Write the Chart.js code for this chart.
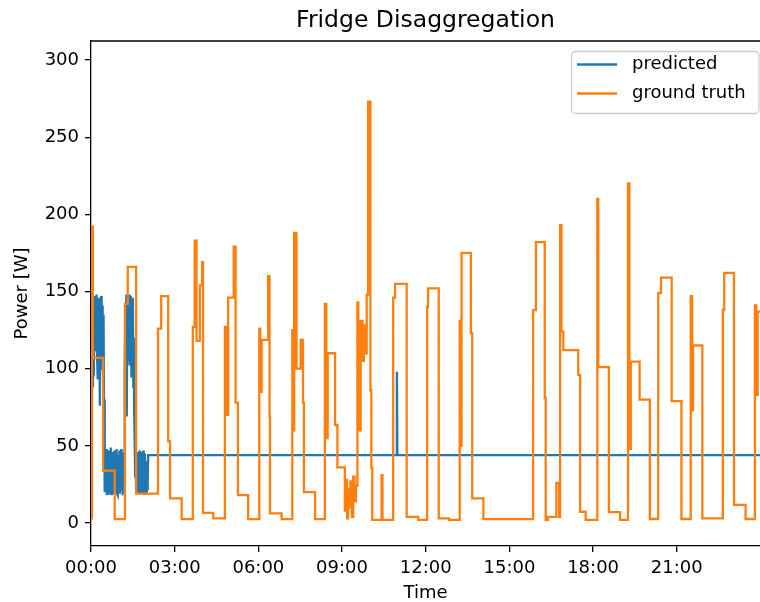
<!DOCTYPE html>
<html>
<head>
<meta charset="utf-8">
<title>Fridge Disaggregation</title>
<script src="https://cdn.jsdelivr.net/npm/chart.js@4.4.1/dist/chart.umd.min.js"></script>
<style>
  html, body { margin: 0; padding: 0; background: #fff; }
  canvas { display: block; }
</style>
</head>
<body>
<canvas id="fridgeChart" width="760" height="602"></canvas>
<script>
// time in minutes after midnight, power in W
const gtMinutes = [
  0, 2, 4, 26, 51, 73, 79, 97, 144, 151, 166, 170, 195,
  219, 223, 227, 234, 239, 241, 263,
  288, 291, 295, 307, 311, 316, 338,
  362, 364, 367, 381, 384, 385, 410,
  433, 435, 437, 442, 451, 456, 458, 482,
  503, 506, 509, 525, 530,
  546, 549, 551, 553, 555, 558, 561, 564, 567, 570,
  573, 575, 580, 584, 587, 590, 593, 596, 601, 603, 605, 625, 627,
  650, 654, 679, 704, 723, 725, 748, 770,
  793, 795, 797, 817, 820, 844,
  951, 957, 976, 978, 983, 1001, 1007,
  1009, 1012, 1016, 1048, 1052, 1064,
  1089, 1091, 1114, 1138,
  1155, 1158, 1161, 1180, 1202,
  1220, 1226, 1249, 1270,
  1290, 1293, 1295, 1315,
  1359, 1362, 1383, 1408,
  1428, 1431, 1434, 1439
];
const gtWatts = [
  3, 192, 107, 34, 2.5, 142, 166, 19, 126, 147, 53, 16, 2.5,
  127, 183, 118, 154, 169, 6.5, 3,
  127, 70, 146, 179, 78, 18, 2.5,
  126, 85, 118.6, 160, 69, 6.3, 2.5,
  125, 60, 188, 100, 118.6, 78, 20, 2.5,
  142, 55, 110, 63.5, 36,
  8, 28, 3, 22, 10, 27, 4, 30, 14, 24,
  143, 60, 131, 105, 128, 110, 148, 273, 86, 35.6, 2, 31, 2,
  146, 155, 4, 2, 140, 152, 3, 2,
  131, 50, 175, 123, 16, 2.5,
  138, 182, 81, 2, 4, 26, 4,
  193, 124, 112, 96, 7.3, 2,
  210, 101, 7, 2,
  220, 48, 104.5, 80, 2.6,
  149, 159, 79, 2.6,
  147, 73, 115, 3,
  138, 162, 11.7, 2.6,
  141, 83, 137, 137
];

const predMinutes = [
  0, 1, 2, 3, 4, 5, 6, 7, 8, 9,
  10, 11, 12, 13, 14, 15, 16, 17, 18, 19,
  20, 21, 22, 23, 24, 25, 26, 27, 28, 29,
  30, 31, 32, 33, 34, 35, 36, 37, 38, 39,
  40, 41, 42, 43, 44, 45, 46, 47, 48, 49,
  50, 51, 52, 53, 54, 55, 56, 57, 58, 59,
  60, 61, 62, 63, 64, 65, 66, 67, 68, 69,
  70, 71, 72, 73, 74, 75, 76, 77, 78, 79,
  80, 81, 82, 83, 84, 85, 86, 87, 88, 89,
  90, 91, 92, 93, 94, 95, 96, 97, 98, 99,
  100, 101, 102, 103, 104, 105, 106, 107, 108, 109,
  110, 111, 112, 113, 114, 115, 116, 117, 118, 119,
  120, 121, 122, 123,
  657, 658, 659, 1439
];
const predWatts = [
  58, 92, 70, 105, 88, 130, 95, 140, 147, 112,
  145, 120, 148, 108, 140, 93, 146, 118, 130, 76,
  144, 110, 147, 125, 100, 141, 92, 135, 80, 62,
  20, 45, 25, 48, 18, 40, 22, 47, 30, 19,
  44, 26, 49, 20, 38, 18, 46, 24, 42, 19,
  47, 28, 20, 45, 22, 48, 19, 36, 18, 44,
  25, 47, 19, 40, 21, 48, 23, 43, 18, 38,
  20, 45, 60, 100, 140, 115, 148, 69, 147, 105,
  145, 120, 148, 102, 140, 112, 147, 95, 138, 108,
  146, 88, 120, 70, 52, 30, 45, 22, 42, 30,
  46, 20, 44, 19, 47, 23, 40, 19, 46, 25,
  43, 19, 47, 22, 38, 19, 45, 24, 40, 20,
  35, 22, 28, 44,
  44, 98, 44, 44
];

const xTickMinutes = [0, 180, 360, 540, 720, 900, 1080, 1260];
const xTickLabels = ["00:00", "03:00", "06:00", "09:00", "12:00", "15:00", "18:00", "21:00"];
const yTicks = [0, 50, 100, 150, 200, 250, 300];

const FONT = "'DejaVu Sans', sans-serif";

// matplotlib-like top spine
const topSpine = {
  id: "topSpine",
  afterDatasetsDraw(chart) {
    const { ctx, chartArea } = chart;
    ctx.save();
    ctx.strokeStyle = "#000";
    ctx.lineWidth = 1.3;
    ctx.beginPath();
    ctx.moveTo(chartArea.left, chartArea.top);
    ctx.lineTo(chartArea.right, chartArea.top);
    ctx.stroke();
    ctx.restore();
  }
};

// framed legend in the upper right corner of the plot
const boxLegend = {
  id: "boxLegend",
  afterDatasetsDraw(chart) {
    const { ctx, chartArea } = chart;
    const x = chartArea.right - 188.5;
    const y = chartArea.top + 10.5;
    ctx.save();
    ctx.fillStyle = "rgba(255,255,255,0.8)";
    ctx.strokeStyle = "#cccccc";
    ctx.lineWidth = 1.3;
    ctx.beginPath();
    if (ctx.roundRect) ctx.roundRect(x, y, 187.5, 62, 4);
    else ctx.rect(x, y, 187.5, 62);
    ctx.fill();
    ctx.stroke();
    ctx.font = "18px " + FONT;
    ctx.textBaseline = "middle";
    chart.data.datasets.forEach((ds, i) => {
      const ly = y + 13 + i * 29;
      ctx.strokeStyle = ds.borderColor;
      ctx.lineWidth = ds.borderWidth;
      ctx.beginPath();
      ctx.moveTo(x + 5.5, ly);
      ctx.lineTo(x + 45.5, ly);
      ctx.stroke();
      ctx.fillStyle = "#000";
      ctx.fillText(ds.label, x + 60.5, ly);
    });
    ctx.restore();
  }
};

function axisStyle() {
  return {
    grid: { drawOnChartArea: false, drawTicks: true, tickLength: 6, color: "#000", lineWidth: 1.3 },
    border: { display: true, color: "#000", width: 1.3 }
  };
}

function drawChart() {
  const ctx = document.getElementById("fridgeChart").getContext("2d");
  const predicted = predMinutes.map((m, i) => ({ x: m, y: predWatts[i] }));
  const truth = gtMinutes.map((m, i) => ({ x: m, y: gtWatts[i] }));

  new Chart(ctx, {
    type: "line",
    data: {
      datasets: [{
        label: "predicted",
        data: predicted,
        borderColor: "#1f77b4",
        borderWidth: 2.3,
        pointRadius: 0,
        fill: false,
        order: 1
      }, {
        label: "ground truth",
        data: truth,
        borderColor: "#ff7f0e",
        borderWidth: 2.3,
        pointRadius: 0,
        stepped: "before",
        fill: false,
        order: 0
      }]
    },
    options: {
      responsive: false,
      animation: false,
      devicePixelRatio: 1,
      layout: { padding: 0 },
      plugins: {
        legend: { display: false },
        tooltip: { enabled: false },
        title: {
          display: true,
          fullSize: false,
          text: "Fridge Disaggregation",
          color: "#000",
          font: { family: FONT, size: 23.5, weight: "normal" },
          padding: { top: 6.5, bottom: 6.3 }
        }
      },
      scales: {
        x: {
          type: "linear",
          min: 0,
          max: 1439,
          afterBuildTicks: scale => { scale.ticks = xTickMinutes.map(v => ({ value: v })); },
          afterFit: scale => { scale.height = 56; },
          ticks: {
            callback: (v, i) => xTickLabels[i],
            color: "#000",
            font: { family: FONT, size: 18 },
            padding: 6,
            maxRotation: 0,
            autoSkip: false
          },
          title: {
            display: true,
            text: "Time",
            color: "#000",
            font: { family: FONT, size: 18, lineHeight: 1 },
            padding: { top: 0, bottom: 0 }
          },
          ...axisStyle()
        },
        y: {
          type: "linear",
          min: -14.9,
          max: 312.3,
          afterBuildTicks: scale => { scale.ticks = yTicks.map(v => ({ value: v })); },
          afterFit: scale => { scale.width = 91; },
          ticks: {
            color: "#000",
            font: { family: FONT, size: 18 },
            padding: 6,
            autoSkip: false
          },
          title: {
            display: true,
            text: "Power [W]",
            color: "#000",
            font: { family: FONT, size: 18, lineHeight: 1 },
            padding: { top: 13, bottom: 0 }
          },
          ...axisStyle()
        }
      }
    },
    plugins: [topSpine, boxLegend]
  });
}

window.onload = drawChart;
</script>
</body>
</html>
